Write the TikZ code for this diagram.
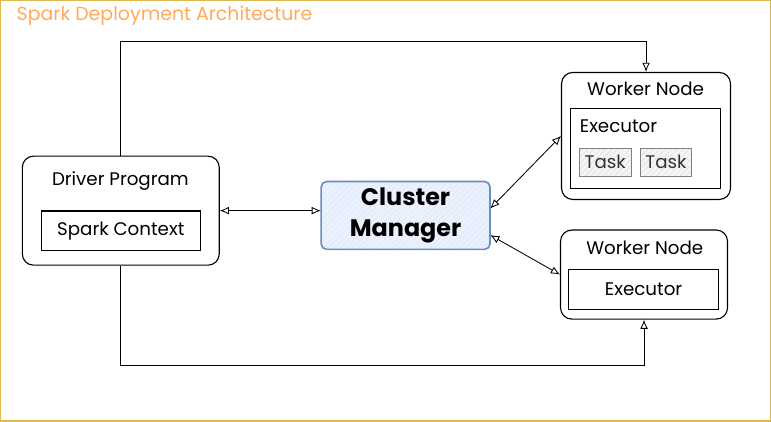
\documentclass[tikz,border=0pt]{standalone}
\usepackage{fontspec}
\setmainfont{Poppins}
\usetikzlibrary{arrows.meta,patterns.meta}
\definecolor{framegold}{HTML}{E0B850}
\definecolor{titleorange}{HTML}{FFAA5C}
\definecolor{cmblue}{HTML}{6C8EBF}
\definecolor{cmfill}{HTML}{DAE8FC}
\begin{document}
\begin{tikzpicture}[>={Latex[open,length=6.5pt,width=5.5pt]}, every node/.style={font=\fontsize{13}{15}\selectfont}]
		\tikzstyle{outer}=[draw,rounded corners=8pt,thick]
		\tikzstyle{inner}=[draw,thick,inner sep=0pt]
		\tikzstyle{task}=[draw=gray,inner sep=0pt,minimum width=1.28cm,minimum height=0.7cm,text=black!80,
			preaction={fill=gray!8},pattern={Lines[angle=45,distance=3pt,line width=0.3pt]},pattern color=gray!30]
		% frame and title
		\draw[framegold,thick](0,0)rectangle(19.275,-10.525);
		\node[anchor=west,text=titleorange,font=\fontsize{13.5}{15}\selectfont](title)at(0.28,-0.38){Spark Deployment Architecture};
		% driver
		\node[outer,minimum width=4.93cm,minimum height=2.73cm](driver)at(3.01,-5.26){};
		\node[](dlabel)at(3.0,-4.53){Driver Program};
		\node[inner,minimum width=3.98cm,minimum height=0.98cm](sc)at(3.01,-5.76){Spark Context};
		% cluster manager
		\node[draw=cmblue,very thick,rounded corners=4pt,minimum width=4.23cm,minimum height=1.7cm,align=center,
			preaction={fill=cmfill!55},pattern={Lines[angle=45,distance=3pt,line width=0.4pt]},pattern color=cmfill,
			font=\fontsize{17}{22}\selectfont\bfseries](cm)at(10.14,-5.38){Cluster\\Manager};
		% worker 1
		\node[outer,minimum width=4.23cm,minimum height=3.18cm](w1)at(16.16,-3.39){};
		\node[](w1label)at(16.15,-2.2){Worker Node};
		\node[inner,minimum width=3.75cm,minimum height=2.0cm](e1)at(16.15,-3.7){};
		\node[anchor=west](e1label)at(14.38,-3.15){Executor};
		\node[task](t1)at(15.14,-4.05){Task};
		\node[task](t2)at(16.66,-4.05){Task};
		% worker 2
		\node[outer,minimum width=4.18cm,minimum height=2.23cm](w2)at(16.11,-6.86){};
		\node[](w2label)at(16.13,-6.18){Worker Node};
		\node[inner,minimum width=3.75cm,minimum height=1.0cm](e2)at(16.1,-7.23){Executor};
		% links
		\coordinate(top)at(0,-1.02);
		\coordinate(bot)at(0,-9.13);
		\path[<->,semithick] (driver.east) edge (driver.east -| cm.west)
		([yshift=5pt]cm.east) edge (w1.west)
		([yshift=-14pt]cm.east) edge (w2.west);
		\draw[->,semithick](driver.north)--(driver.north |- top)-|(w1.north);
		\draw[->,semithick](driver.south)--(driver.south |- bot)-|(w2.south);
		\end{tikzpicture}
\end{document}
